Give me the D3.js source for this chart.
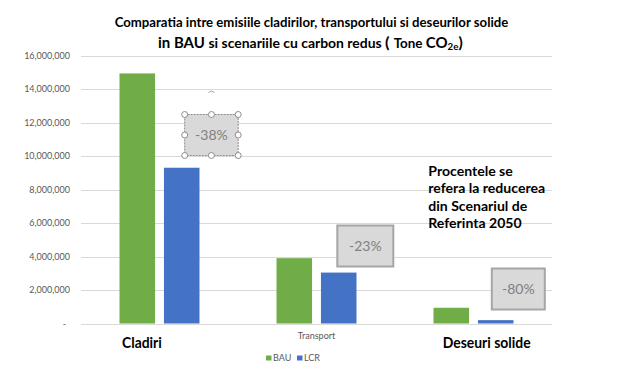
<!DOCTYPE html>
<html>
<head>
<meta charset="utf-8">
<script src="https://cdn.jsdelivr.net/npm/d3@7/dist/d3.min.js"></script>
<style>
  html, body { margin: 0; padding: 0; background: #fff; }
  svg { display: block; font-family: Lato, "Open Sans", sans-serif; }
</style>
</head>
<body>
<div id="grafico"></div>
<script>
// Data
const categories = ["Cladiri", "Transport", "Deseuri solide"];
const series = ["BAU", "LCR"];
const bauValues = [14930000, 3900000, 940000];
const lcrValues = [9300000, 3040000, 200000];
const reductions = ["-38%", "-23%", "-80%"];
const yTicks = [0, 2000000, 4000000, 6000000, 8000000, 10000000, 12000000, 14000000, 16000000];
const noteLines = ["Procentele se", "refera la reducerea", "din Scenariul de", "Referinta 2050"];

const width = 617;
const height = 372;
const marginTop = 55.5;
const marginLeft = 81;
const plotRight = 552;
const plotBottom = 323.5;

const colors = { BAU: "#70ad47", LCR: "#4472c4" };

const svg = d3.select("#grafico")
  .append("svg")
  .attr("width", width)
  .attr("height", height)
  .attr("viewBox", [0, 0, width, height]);

const x = d3.scaleBand().domain(categories).range([marginLeft, plotRight]).padding(0);
const xSub = d3.scaleBand().domain(series)
  .range([38.5, x.bandwidth() - 38.5])
  .paddingInner(0.2);
const y = d3.scaleLinear().domain([0, 16000000]).range([plotBottom, marginTop]);

// squeeze text horizontally so it mimics the narrow Calibri of the original
function squeeze(g, target) {
  const w = g.node().getBBox().width;
  const k = target / w;
  const t = g.attr("data-t");
  g.attr("transform", `${t} scale(${k},1)`);
}

// grid
svg.append("g")
  .selectAll("line")
  .data(yTicks)
  .join("line")
  .attr("x1", marginLeft)
  .attr("x2", plotRight)
  .attr("y1", d => Math.round(y(d)) + 0.5)
  .attr("y2", d => Math.round(y(d)) + 0.5)
  .attr("stroke", "#d9d9d9")
  .attr("stroke-width", 1);

// y axis labels
const fmt = d3.format(",");
svg.append("g")
  .attr("font-size", 9)
  .attr("fill", "#595959")
  .attr("text-anchor", "end")
  .selectAll("text")
  .data(yTicks)
  .join("text")
  .attr("x", d => d === 0 ? 66 : 70)
  .attr("y", d => y(d))
  .attr("dy", "0.35em")
  .text(d => d === 0 ? "-" : fmt(d));

// bars
const rows = categories.map((c, i) => ({ cat: c, BAU: bauValues[i], LCR: lcrValues[i] }));
const groups = svg.append("g")
  .selectAll("g")
  .data(rows)
  .join("g")
  .attr("transform", d => `translate(${x(d.cat)},0)`);

groups.selectAll("rect")
  .data(d => series.map(s => ({ key: s, value: d[s] })))
  .join("rect")
  .attr("x", d => xSub(d.key))
  .attr("y", d => y(d.value))
  .attr("width", xSub.bandwidth())
  .attr("height", d => y(0) - y(d.value))
  .attr("fill", d => colors[d.key]);

// small grey category label (only Transport visible in the original)
svg.append("text")
  .attr("x", x("Transport") + x.bandwidth() / 2)
  .attr("y", 339)
  .attr("text-anchor", "middle")
  .attr("font-size", 9)
  .attr("fill", "#595959")
  .text("Transport");

// big bold category labels placed over the axis
const bigLabels = [
  { text: "Cladiri", x: 122, w: 40 },
  { text: "Deseuri solide", x: 442.7, w: 88 }
];
bigLabels.forEach(l => {
  const g = svg.append("g").attr("data-t", `translate(${l.x},348)`);
  g.append("text")
    .attr("font-size", 15)
    .attr("font-weight", "bold")
    .attr("fill", "#000")
    .text(l.text);
  squeeze(g, l.w);
});

// legend
const legend = svg.append("g")
  .attr("font-size", 9)
  .attr("fill", "#595959");
const legendX = [266, 297];
series.forEach((s, i) => {
  legend.append("rect")
    .attr("x", legendX[i])
    .attr("y", 355.5)
    .attr("width", 5.5)
    .attr("height", 5)
    .attr("fill", colors[s]);
  legend.append("text")
    .attr("x", legendX[i] + 7)
    .attr("y", 361)
    .text(s);
});

// title
const t1 = svg.append("g").attr("data-t", "translate(114.7,26.7)");
t1.append("text")
  .attr("font-size", 13.5)
  .attr("font-weight", "bold")
  .attr("fill", "#000")
  .text("Comparatia intre emisiile cladirilor, transportului si deseurilor solide");
squeeze(t1, 394);

const t2 = svg.append("g").attr("data-t", "translate(158,47.7)");
const t2text = t2.append("text").attr("font-weight", "bold").attr("fill", "#000");
t2text.append("tspan").attr("font-size", 14.5).text("in BAU ");
t2text.append("tspan").attr("font-size", 13.5).text("si scenariile cu carbon redus ");
t2text.append("tspan").attr("font-size", 16).text("( ");
t2text.append("tspan").attr("font-size", 13).text("Tone ");
t2text.append("tspan").attr("font-size", 14.5).text("CO");
t2text.append("tspan").attr("font-size", 9.5).attr("dy", 2).text("2e");
t2text.append("tspan").attr("font-size", 15).attr("dy", -2).text(")");
squeeze(t2, 305);

// note on the right
const note = svg.append("g").attr("data-t", "translate(428.3,176)");
note.append("text")
  .attr("font-size", 14)
  .attr("font-weight", "bold")
  .attr("fill", "#000")
  .selectAll("tspan")
  .data(noteLines)
  .join("tspan")
  .attr("x", 0)
  .attr("y", (d, i) => i * 17.5)
  .text(d => d);
squeeze(note, 117);

// reduction boxes, placed relative to the right edge of each LCR bar
const boxH = 41;
const boxes = [
  { dx: -14.8, top: 114.5, w: 53.5, selected: true },
  { dx: -19.2, top: 225.5, w: 56, selected: false },
  { dx: -21.7, top: 268.5, w: 53, selected: false }
];
categories.forEach((c, i) => {
  const bx = x(c) + xSub("LCR") + xSub.bandwidth() + boxes[i].dx;
  const by = boxes[i].top;
  const w = boxes[i].w;
  const g = svg.append("g");
  g.append("rect")
    .attr("x", bx)
    .attr("y", by)
    .attr("width", w)
    .attr("height", boxH)
    .attr("fill", "#d9d9d9")
    .attr("stroke", boxes[i].selected ? "#8c8c8c" : "#a6a6a6")
    .attr("stroke-width", boxes[i].selected ? 1 : 2)
    .attr("stroke-dasharray", boxes[i].selected ? "2,1" : null);
  g.append("text")
    .attr("x", bx + w / 2)
    .attr("y", by + boxH / 2)
    .attr("dy", "0.35em")
    .attr("text-anchor", "middle")
    .attr("font-size", 14)
    .attr("fill", "#808080")
    .text(reductions[i]);
  if (boxes[i].selected) {
    // selection handles
    const hx = [bx, bx + w / 2, bx + w];
    const hy = [by, by + boxH / 2, by + boxH];
    hx.forEach((px, a) => hy.forEach((py, b) => {
      if (a === 1 && b === 1) return;
      g.append("circle")
        .attr("cx", px)
        .attr("cy", py)
        .attr("r", 3)
        .attr("fill", "#fff")
        .attr("stroke", "#8c8c8c")
        .attr("stroke-width", 1);
    }));
    // rotation handle
    g.append("path")
      .attr("d", `M${bx + w / 2 - 3},${by - 22} Q${bx + w / 2},${by - 25} ${bx + w / 2 + 3},${by - 22}`)
      .attr("fill", "none")
      .attr("stroke", "#a6a6a6")
      .attr("stroke-width", 1);
  }
});
</script>
</body>
</html>
